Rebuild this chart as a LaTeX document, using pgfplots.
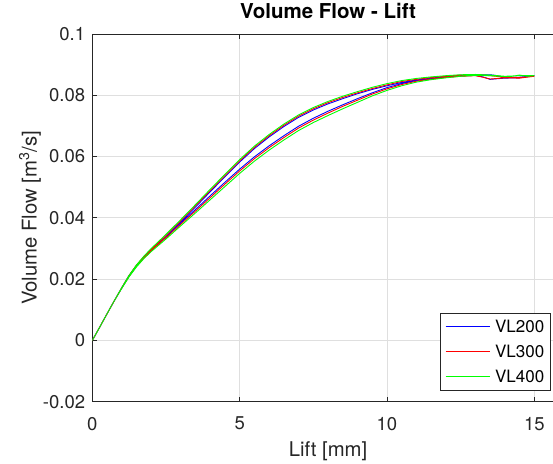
\documentclass[border=0pt]{standalone}
\usepackage{pgfplots}
\pgfplotsset{compat=1.18}
\usepackage{fontspec}
\setmainfont{TeX Gyre Heros}
\definecolor{axgray}{RGB}{38,38,38}
\definecolor{gridgray}{RGB}{223,223,223}
\definecolor{mblue}{RGB}{0,0,255}
\definecolor{mred}{RGB}{255,0,0}
\definecolor{mgreen}{RGB}{0,255,0}
\begin{document}
\begin{tikzpicture}
\useasboundingbox (-92.3pt,-61.3pt) rectangle (460.7pt,401.7pt);
\clip (-92.3pt,-61.3pt) rectangle (460.7pt,401.7pt);
\begin{axis}[
  at={(0pt,0pt)}, anchor=south west,
  scale only axis, width=471.5pt, height=367.7pt,
  xmin=0, xmax=16, ymin=-0.02, ymax=0.1,
  xtick={0,5,10,15}, xticklabels={0,5,10,15},
  ytick={-0.02,0,0.02,0.04,0.06,0.08,0.1},
  yticklabels={-0.02,0,0.02,0.04,0.06,0.08,0.1},
  tick align=inside, major tick length=5pt,
  grid=major, grid style={gridgray, line width=0.8pt},
  axis line style={axgray, line width=0.8pt},
  tick style={axgray, line width=0.8pt},
  ticklabel style={font=\fontsize{18.5}{22}\selectfont, text=axgray},
  xticklabel style={inner sep=0pt, anchor=north, yshift=-15pt},
  yticklabel style={inner sep=0pt, anchor=east, xshift=-7pt},
  title={\bfseries Volume Flow - Lift},
  title style={at={(axis description cs:0.5,1)}, anchor=base, yshift=9pt, font=\fontsize{20.5}{24}\selectfont, text=black},
  xlabel={Lift [mm]},
  ylabel={Volume Flow [m\textsuperscript{3}/s]},
  every axis x label/.style={at={(axis description cs:0.5,0)}, anchor=base, yshift=-54.3pt, font=\fontsize{20.3}{24}\selectfont, text=axgray},
  every axis y label/.style={at={(axis description cs:0,0.5)}, xshift=-55.6pt, rotate=90, anchor=base, font=\fontsize{20.3}{24}\selectfont, text=axgray},
  legend style={at={(0.9722,0.0291)}, anchor=south east, draw=axgray, line width=0.8pt, fill=white,
    font=\fontsize{17}{20}\selectfont, inner xsep=5pt, inner ysep=6pt, row sep=9pt, column sep=4pt,
    nodes={inner sep=1pt}},
  legend image code/.code={\draw[#1, line width=1pt] (0pt,0pt) -- (44pt,0pt);},
  legend cell align=left,
  every axis plot/.append style={line width=0.9pt},
]
\addplot[color=mblue] coordinates {
(0,0) (0.25,0.0043) (0.5,0.0087) (0.75,0.0130) (1,0.0172) (1.25,0.0212) (1.5,0.0245) (1.75,0.0272) (2,0.0296) (2.5,0.0339) (3,0.0387) (3.5,0.0435) (4,0.0485) (4.5,0.0534) (5,0.0582) (5.5,0.0626) (6,0.0664) (6.5,0.0698) (7,0.0728) (7.5,0.0752) (8,0.0772) (8.5,0.0789) (9,0.0805) (9.5,0.0819) (10,0.0831) (10.5,0.0842) (11,0.0850) (11.5,0.0856) (12,0.0861) (12.5,0.0865) (13,0.0867) (13.5,0.0867) (13.75,0.0864) (14,0.0858) (14.5,0.0859) (15,0.0864)
(14.5,0.0857) (14,0.0856) (13.5,0.0852) (13.25,0.0860) (13,0.0865) (12.5,0.0863) (12,0.0859) (11.5,0.0854) (11,0.0848) (10.5,0.0838) (10,0.0825) (9.5,0.0808) (9,0.0789) (8.5,0.0769) (8,0.0748) (7.5,0.0725) (7,0.0699) (6.5,0.0668) (6,0.0635) (5.5,0.0599) (5,0.0559) (4.5,0.0516) (4,0.0472) (3.5,0.0427) (3,0.0383) (2.5,0.0338) (2,0.0295) (1.75,0.0271) (1.5,0.0243) (1.25,0.0210) (1,0.0171) (0.75,0.0130) (0.5,0.0087) (0.25,0.0043) (0,0)
};
\addlegendentry{VL200}
\addplot[color=mred] coordinates {
(0,0) (0.25,0.0043) (0.5,0.0087) (0.75,0.0130) (1,0.0172) (1.25,0.0212) (1.5,0.0246) (1.75,0.0273) (2,0.0298) (2.5,0.0342) (3,0.0390) (3.5,0.0439) (4,0.0489) (4.5,0.0538) (5,0.0586) (5.5,0.0630) (6,0.0668) (6.5,0.0702) (7,0.0732) (7.5,0.0756) (8,0.0776) (8.5,0.0793) (9,0.0808) (9.5,0.0822) (10,0.0834) (10.5,0.0845) (11,0.0852) (11.5,0.0858) (12,0.0862) (12.5,0.0866) (13,0.0867) (13.5,0.0864) (14,0.0859) (14.5,0.0858) (15,0.0862)
(14.5,0.0856) (14,0.0857) (13.5,0.0853) (13.25,0.0859) (13,0.0864) (12.5,0.0862) (12,0.0858) (11.5,0.0853) (11,0.0846) (10.5,0.0835) (10,0.0821) (9.5,0.0804) (9,0.0784) (8.5,0.0764) (8,0.0742) (7.5,0.0719) (7,0.0693) (6.5,0.0662) (6,0.0629) (5.5,0.0593) (5,0.0553) (4.5,0.0510) (4,0.0466) (3.5,0.0422) (3,0.0379) (2.5,0.0335) (2,0.0293) (1.75,0.0269) (1.5,0.0242) (1.25,0.0209) (1,0.0171) (0.75,0.0130) (0.5,0.0087) (0.25,0.0043) (0,0)
};
\addlegendentry{VL300}
\addplot[color=mgreen] coordinates {
(0,0) (0.25,0.0043) (0.5,0.0087) (0.75,0.0130) (1,0.0172) (1.25,0.0212) (1.5,0.0246) (1.75,0.0275) (2,0.0300) (2.5,0.0346) (3,0.0394) (3.5,0.0443) (4,0.0493) (4.5,0.0542) (5,0.0590) (5.5,0.0634) (6,0.0672) (6.5,0.0706) (7,0.0736) (7.5,0.0760) (8,0.0780) (8.5,0.0797) (9,0.0812) (9.5,0.0826) (10,0.0838) (10.5,0.0848) (11,0.0855) (11.5,0.0860) (12,0.0864) (12.5,0.0867) (13,0.0868) (13.5,0.0866) (14,0.0862) (14.5,0.0864) (15,0.0864)
(14.75,0.0862) (14.5,0.0866) (14.25,0.0862) (14,0.0861) (13.5,0.0864) (13,0.0865) (12.5,0.0862) (12,0.0857) (11.5,0.0851) (11,0.0843) (10.5,0.0831) (10,0.0816) (9.5,0.0798) (9,0.0777) (8.5,0.0756) (8,0.0734) (7.5,0.0711) (7,0.0685) (6.5,0.0654) (6,0.0621) (5.5,0.0585) (5,0.0545) (4.5,0.0502) (4,0.0459) (3.5,0.0416) (3,0.0374) (2.5,0.0331) (2,0.0290) (1.75,0.0267) (1.5,0.0240) (1.25,0.0208) (1,0.0170) (0.75,0.0130) (0.5,0.0087) (0.25,0.0043) (0,0)
};
\addlegendentry{VL400}
\end{axis}
\end{tikzpicture}
\end{document}
